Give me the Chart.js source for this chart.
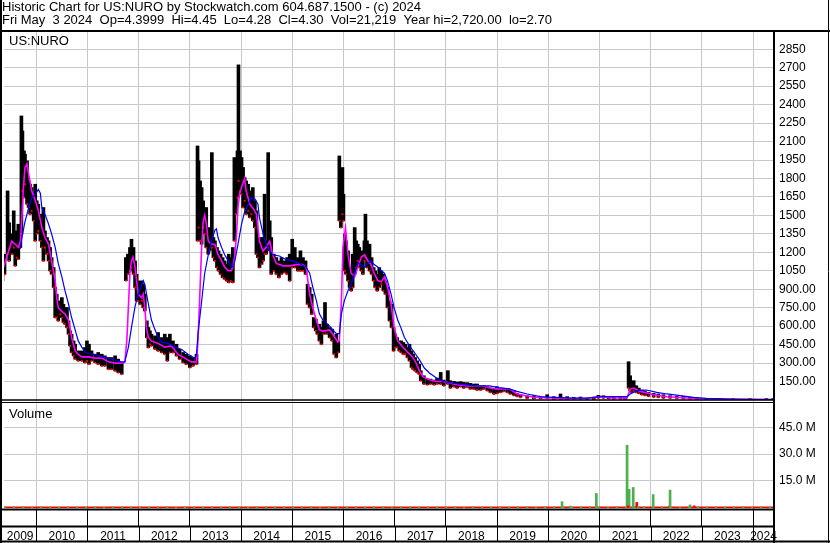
<!DOCTYPE html>
<html>
<head>
<meta charset="utf-8">
<script src="https://cdn.jsdelivr.net/npm/chart.js@4.4.1/dist/chart.umd.min.js"></script>
<style>
  body { margin: 0; background: #fff; }
  #wrap { width: 830px; height: 543px; }
</style>
</head>
<body>
<div id="wrap"><canvas id="histchart" width="830" height="543"></canvas></div>
<script>
// header text
var headerLines = [
	'Historic Chart for US:NURO by Stockwatch.com 604.687.1500 - (c) 2024',
	'Fri May  3 2024  Op=4.3999  Hi=4.45  Lo=4.28  Cl=4.30  Vol=21,219  Year hi=2,720.00  lo=2.70'
];
var yearLabels = ['2009','2010','2011','2012','2013','2014','2015','2016','2017','2018','2019','2020','2021','2022','2023','2024'];
var yearBounds = [2010,2011,2012,2013,2014,2015,2016,2017,2018,2019,2020,2021,2022,2023,2024];
var priceTicks = [150,300,450,600,750,900,1050,1200,1350,1500,1650,1800,1950,2100,2250,2400,2550,2700,2850];
var priceTickLabels = ['150.00','300.00','450.00','600.00','750.00','900.00','1050','1200','1350','1500','1650','1800','1950','2100','2250','2400','2550','2700','2850'];
var volTicks = [15, 30, 45];
var volTickLabels = ['15.0 M', '30.0 M', '45.0 M'];

// daily-ish price ranges (decimal year, high, low)
var barT = [2009.34,2009.38,2009.44,2009.47,2009.53,2009.56,2009.59,2009.62,2009.65,2009.69,2009.71,2009.73,2009.76,2009.78,2009.82,2009.85,2009.88,2009.91,2009.95,2009.98,
	2010.01,2010.04,2010.08,2010.11,2010.14,2010.17,2010.21,2010.24,2010.27,2010.30,2010.34,2010.37,2010.40,2010.43,2010.47,2010.50,2010.53,2010.56,2010.60,2010.63,2010.66,2010.69,2010.73,2010.76,2010.82,2010.89,2010.95,2010.99,
	2011.03,2011.08,2011.15,2011.21,2011.28,2011.34,2011.41,2011.47,2011.54,2011.60,2011.67,2011.75,2011.79,2011.83,2011.86,2011.90,2011.93,2011.96,2011.99,
	2012.03,2012.06,2012.09,2012.12,2012.16,2012.19,2012.22,2012.25,2012.32,2012.38,2012.45,2012.51,2012.56,2012.61,2012.67,2012.74,2012.80,2012.87,2012.93,
	2013.00,2013.06,2013.13,2013.15,2013.17,2013.20,2013.23,2013.26,2013.29,2013.32,2013.36,2013.39,2013.43,2013.46,2013.49,2013.53,2013.56,2013.60,2013.64,2013.68,2013.72,2013.76,2013.80,2013.84,2013.87,2013.90,2013.93,2013.95,2013.98,
	2014.01,2014.04,2014.07,2014.10,2014.14,2014.17,2014.20,2014.23,2014.27,2014.30,2014.33,2014.36,2014.40,2014.43,2014.46,2014.49,2014.53,2014.56,2014.59,2014.64,2014.69,2014.74,2014.79,2014.85,2014.90,2014.95,
	2015.00,2015.05,2015.11,2015.16,2015.21,2015.26,2015.30,2015.34,2015.38,2015.42,2015.46,2015.49,2015.53,2015.57,2015.61,2015.64,2015.68,2015.73,2015.78,2015.82,2015.86,2015.90,2015.92,2015.95,2015.98,
	2016.00,2016.03,2016.05,2016.09,2016.12,2016.15,2016.18,2016.22,2016.25,2016.28,2016.31,2016.35,2016.38,2016.41,2016.43,2016.46,2016.51,2016.55,2016.59,2016.62,2016.66,2016.70,2016.74,2016.78,2016.82,2016.86,2016.90,2016.94,2016.98,
	2017.01,2017.05,2017.09,2017.13,2017.17,2017.21,2017.25,2017.29,2017.33,2017.36,2017.40,2017.44,2017.48,2017.51,2017.57,2017.64,2017.70,2017.77,2017.83,2017.90,2017.96,
	2018.04,2018.09,2018.16,2018.22,2018.29,2018.35,2018.42,2018.48,2018.55,2018.61,2018.68,2018.74,2018.81,2018.87,2018.94,
	2019.00,2019.07,2019.13,2019.20,2019.26,2019.33,2019.39,2019.46,2019.59,2019.72,2019.85,2019.98,
	2020.11,2020.24,2020.37,2020.50,2020.63,2020.76,2020.89,2020.98,2021.08,2021.18,2021.28,2021.41,2021.50,2021.57,2021.60,2021.63,2021.67,2021.72,2021.77,2021.83,2021.89,2021.96,
	2022.06,2022.15,2022.25,2022.38,2022.51,2022.64,2022.77,2022.90,2023.09,2023.35,2023.61,2023.94,2024.26,2024.39];
var barHi = [1157,1185,1699,1440,1350,1537,1374,1320,1428,1350,2308,2186,2024,1997,1943,1780,1753,1726,1672,1753,
	1618,1591,1510,1456,1564,1374,1320,1293,1239,1157,1076,914,860,805,778,832,778,751,751,643,562,535,480,453,399,399,426,480,
	453,399,372,386,372,359,345,345,359,332,304,1157,1185,1239,1306,1239,1130,1022,968,
	914,968,941,860,643,589,562,535,521,548,507,535,507,535,480,453,413,386,372,
	359,345,372,2064,1943,1780,1726,1618,1510,1564,1401,1350,2010,1320,1293,1239,1212,1185,1157,1130,1103,1185,1157,1239,1970,1834,2024,2723,2024,
	1970,1889,1807,1780,1753,1699,1672,1726,1618,1537,1320,1293,1320,1320,1672,1293,2010,1456,1320,1185,1157,1130,1157,1130,1157,1185,
	1306,1239,1157,1212,1157,1130,941,914,860,670,657,616,616,589,643,792,616,589,575,507,535,480,1983,1753,1889,
	1672,1350,1293,1212,1076,1022,1185,1401,1293,1266,1239,1185,1212,1293,1510,1293,1266,1157,1076,1049,1022,1076,1049,1022,968,914,805,778,589,
	535,507,480,480,467,453,426,453,399,372,345,318,291,238,197,170,170,162,178,224,162,
	238,157,151,146,149,143,141,135,130,130,116,116,108,97,89,
	108,97,89,89,81,70,54,43,35,35,27,43,
	27,49,27,22,24,16,22,38,35,27,22,22,19,311,197,130,157,116,97,81,70,62,
	54,49,43,35,30,30,22,16,14,11,8,5,5,5];
var barLo = [970,1022,1185,1130,1185,1239,1090,1157,1144,1239,1350,1699,1645,1753,1591,1564,1510,1537,1456,1293,
	1350,1374,1293,1239,1130,1239,1185,1130,1049,1022,914,670,670,643,697,670,630,616,589,535,440,386,359,332,318,318,304,318,
	291,318,304,291,277,277,250,250,237,223,210,970,1022,1049,1076,1022,914,805,805,
	778,805,751,724,507,426,453,440,413,399,386,372,318,386,386,359,332,304,291,
	264,277,291,1293,1401,1293,1266,1401,1350,1239,1185,1212,1239,1157,1130,1076,1049,1022,995,982,968,955,968,955,1293,1510,1645,1780,1699,
	1672,1564,1618,1510,1537,1483,1510,1456,1401,1185,1157,1076,1103,1130,1185,1185,1239,1212,1022,1049,1022,995,1022,1036,1022,968,
	1076,1076,1049,1049,1049,1022,778,751,697,589,562,535,480,453,535,562,535,507,480,372,345,386,1456,1401,1510,
	1456,1049,1022,968,914,887,914,1022,1076,1130,1076,1049,1022,1130,1157,1076,1049,1022,968,914,887,914,941,887,860,751,643,589,399,
	426,426,399,386,372,372,345,318,264,250,237,223,210,157,130,124,130,124,130,130,116,
	130,97,108,97,108,97,103,89,89,81,81,89,76,62,49,
	54,62,70,62,49,38,30,22,14,11,11,14,
	5,8,5,8,8,5,5,16,16,11,8,8,5,97,76,62,76,62,54,43,38,30,
	24,22,16,16,14,11,8,5,5,3,3,3,3,3];

// short moving average (magenta)
var maShortT = [2009.34,2009.40,2009.46,2009.52,2009.59,2009.65,2009.69,2009.72,2009.75,2009.78,2009.82,2009.85,2009.91,2009.98,
	2010.04,2010.11,2010.17,2010.24,2010.30,2010.37,2010.40,2010.43,2010.50,2010.56,2010.63,2010.69,2010.76,2010.82,2010.89,
	2011.02,2011.15,2011.28,2011.41,2011.54,2011.67,2011.73,2011.77,2011.80,2011.83,2011.86,2011.89,2011.93,2011.96,2011.99,
	2012.06,2012.09,2012.12,2012.15,2012.19,2012.25,2012.38,2012.51,2012.64,2012.77,2012.90,
	2013.03,2013.13,2013.16,2013.19,2013.23,2013.26,2013.29,2013.32,2013.36,2013.42,2013.49,2013.55,2013.62,2013.68,2013.75,2013.81,2013.84,2013.88,2013.91,2013.94,2013.97,
	2014.01,2014.07,2014.10,2014.17,2014.23,2014.30,2014.36,2014.43,2014.49,2014.56,2014.62,2014.69,2014.82,2014.95,
	2015.08,2015.21,2015.27,2015.34,2015.40,2015.47,2015.53,2015.60,2015.73,2015.83,2015.89,2015.92,2015.96,2015.99,
	2016.04,2016.09,2016.15,2016.22,2016.28,2016.35,2016.41,2016.48,2016.54,2016.60,2016.67,2016.74,2016.80,2016.86,2016.93,2016.99,
	2017.06,2017.16,2017.25,2017.35,2017.42,2017.48,2017.55,2017.68,2017.81,2017.94,
	2018.07,2018.20,2018.46,2018.72,2018.85,2018.98,2019.24,2019.39,2019.72,
	2020.04,2020.37,2020.76,2021.02,2021.28,2021.54,2021.60,2021.67,2021.80,
	2022.06,2022.32,2022.71,2023.09,2023.61,2024.40];
var maShort = [1050,1130,1210,1290,1265,1240,1290,1480,1730,1890,1920,1840,1700,1620,
	1540,1400,1320,1265,1130,970,830,750,720,700,650,510,400,370,350,
	350,340,340,310,300,300,310,490,760,1030,1130,1160,1080,970,860,
	830,860,750,590,510,480,460,430,440,370,340,
	310,310,490,800,1240,1450,1500,1440,1290,1265,1265,1180,1130,1080,1050,1050,1080,1180,1340,1560,1670,
	1730,1800,1700,1590,1560,1510,1290,1210,1240,1290,1180,1110,1090,1090,
	1100,1100,1080,860,750,650,570,560,570,510,470,480,800,1240,
	1400,1180,1030,1000,1080,1160,1180,1130,1100,1030,970,960,1000,920,780,590,
	480,430,390,350,300,240,190,165,150,150,
	140,125,115,115,100,90,90,49,22,
	16,11,14,27,16,16,89,97,70,
	43,27,16,8,5,3];

// long moving average (blue)
var maLongT = [2009.69,2009.72,2009.78,2009.85,2009.91,2009.98,
	2010.04,2010.08,2010.11,2010.17,2010.24,2010.30,2010.37,2010.43,2010.50,2010.56,2010.63,2010.69,2010.76,2010.82,2010.89,2010.95,
	2011.02,2011.15,2011.28,2011.41,2011.54,2011.67,2011.73,2011.80,2011.86,2011.93,2011.99,
	2012.06,2012.09,2012.12,2012.19,2012.25,2012.32,2012.38,2012.45,2012.58,2012.71,2012.84,2012.97,
	2013.10,2013.13,2013.16,2013.23,2013.29,2013.36,2013.42,2013.49,2013.52,2013.55,2013.62,2013.68,2013.75,2013.81,2013.84,2013.88,2013.94,
	2014.01,2014.07,2014.14,2014.20,2014.26,2014.33,2014.36,2014.43,2014.49,2014.56,2014.62,2014.75,2014.88,
	2015.01,2015.14,2015.27,2015.34,2015.40,2015.47,2015.53,2015.60,2015.73,2015.86,2015.92,2015.96,
	2016.02,2016.09,2016.15,2016.22,2016.28,2016.35,2016.41,2016.48,2016.54,2016.60,2016.67,2016.74,2016.80,2016.86,2016.93,2016.99,
	2017.06,2017.12,2017.19,2017.29,2017.38,2017.48,2017.58,2017.68,2017.81,2017.94,
	2018.07,2018.33,2018.59,2018.85,2019.04,2019.24,2019.39,2019.59,2019.85,
	2020.11,2020.50,2020.76,2021.02,2021.54,2021.60,2021.73,2021.92,
	2022.12,2022.32,2022.58,2022.84,2023.09,2023.61,2024.40];
var maLong = [1230,1320,1450,1560,1640,1670,
	1710,1680,1560,1510,1430,1350,1240,1110,1000,890,780,670,570,480,430,390,
	380,370,350,340,325,310,310,430,590,760,860,
	940,970,940,780,650,570,510,470,460,430,410,370,
	340,370,540,800,1030,1180,1290,1380,1390,1320,1240,1180,1130,1090,1080,1130,1265,
	1430,1530,1590,1640,1640,1590,1480,1350,1265,1210,1180,1170,1140,
	1130,1110,1080,1030,920,810,700,650,600,540,540,700,
	810,890,940,1030,1110,1100,1080,1110,1130,1100,1080,1050,1030,970,860,750,
	650,590,510,440,390,330,260,220,180,150,
	140,125,115,115,100,90,70,49,27,
	22,16,16,27,27,49,76,81,
	62,49,35,22,14,8,3];

// volume in millions (decimal year, size, 1 = up day)
var volT = [2020.27,2020.29,2020.43,2020.94,2021.54,2021.58,2021.56,2021.66,2021.73,2021.76,2022.05,2022.37,2022.38,2022.77,2022.85];
var volM = [3.3,0.6,0.8,7.9,35.0,10.2,1.0,11.3,2.9,0.5,7.3,0.8,9.8,1.5,1.0];
var volUp = [1,1,1,1,1,1,0,1,0,1,1,0,1,1,0];
var volBase = 0.25;

var xMin = 2009.37, xMax = 2024.41;

function pts(t, v) {
	var out = [];
	for (var i = 0; i < t.length; i++) out.push({x: t[i], y: v[i]});
	return out;
}

var ranges = [], lows = [];
for (var i = 0; i < barT.length; i++) {
	ranges.push({x: barT[i], y: [barLo[i], barHi[i]]});
	lows.push({x: barT[i], y: barLo[i]});
}

var labelFont = {family: 'Liberation Sans', size: 12};

var framePlugin = {
	id: 'frame',
	afterDraw: function(chart) {
		var ctx = chart.ctx;
		var xs = chart.scales.x;
		var ys = chart.scales.y;
		var W = chart.width, H = chart.height;
		ctx.save();
		ctx.strokeStyle = '#000';
		function line(x1, y1, x2, y2, w) {
			ctx.lineWidth = w;
			ctx.beginPath();
			ctx.moveTo(x1, y1);
			ctx.lineTo(x2, y2);
			ctx.stroke();
		}
		// outer frame
		line(1, 0, 1, H, 2);
		line(W - 1.5, 0, W - 1.5, H, 1);
		line(0, 31, W, 31, 2);
		line(0, H - 1.5, W, H - 1.5, 2);
		// right axis line
		line(774, 31, 774, H, 2);
		// panel separator
		line(0, ys.bottom, 774, ys.bottom, 1.5);
		line(0, ys.bottom + 2.5, 774, ys.bottom + 2.5, 1);
		// bottom of volume panel and year rows
		line(0, 509.5, 774, 509.5, 2);
		line(0, 526.5, 774, 526.5, 2);
		for (var i = 0; i < yearBounds.length; i++) {
			var px = Math.round(xs.getPixelForValue(yearBounds[i])) + 0.5;
			line(px, 527, px, H - 1, 1);
		}
		// panel captions
		ctx.fillStyle = '#000';
		ctx.font = '13px "Liberation Sans"';
		ctx.textBaseline = 'middle';
		ctx.textAlign = 'left';
		ctx.fillText('US:NURO', 9, 41);
		ctx.fillText('Volume', 9, 414);
		ctx.restore();
	}
};

var ctx = document.getElementById('histchart');

var histChart = new Chart(ctx, {
	type: 'bar',
	data: {
		datasets: [
			{
				type: 'line',
				label: 'long avg',
				data: pts(maLongT, maLong),
				borderColor: '#0000ff',
				borderWidth: 1.2,
				pointRadius: 0,
				tension: 0,
				yAxisID: 'y',
				order: 1
			},
			{
				type: 'line',
				label: 'short avg',
				data: pts(maShortT, maShort),
				borderColor: '#ff00ff',
				borderWidth: 1.6,
				pointRadius: 0,
				tension: 0,
				yAxisID: 'y',
				order: 2
			},
			{
				type: 'scatter',
				label: 'close',
				data: lows,
				pointStyle: 'rect',
				pointRadius: 1.3,
				backgroundColor: '#ff0000',
				borderWidth: 0,
				yAxisID: 'y',
				order: 3
			},
			{
				type: 'bar',
				label: 'range',
				data: ranges,
				backgroundColor: '#000000',
				barThickness: 3,
				minBarLength: 1,
				grouped: false,
				yAxisID: 'y',
				order: 4
			},
			{
				type: 'bar',
				label: 'volume',
				data: pts(volT, volM),
				backgroundColor: volUp.map(function(u) { return u ? '#4caf50' : '#ff0000'; }),
				barThickness: 2,
				grouped: false,
				yAxisID: 'yv',
				order: 5
			},
			{
				type: 'line',
				label: 'volume base up',
				data: [{x: xMin, y: volBase}, {x: xMax, y: volBase}],
				borderColor: '#4caf50',
				borderWidth: 1.5,
				borderDash: [2, 7],
				pointRadius: 0,
				yAxisID: 'yv',
				order: 6
			},
			{
				type: 'line',
				label: 'volume base',
				data: [{x: xMin, y: volBase}, {x: xMax, y: volBase}],
				borderColor: '#ff0000',
				borderWidth: 1.5,
				pointRadius: 0,
				yAxisID: 'yv',
				order: 7
			}
		]
	},
	options: {
		responsive: false,
		animation: false,
		layout: { padding: { left: 2, right: 0, top: 0, bottom: 0 } },
		plugins: {
			legend: { display: false },
			tooltip: { enabled: false },
			title: {
				display: true,
				text: headerLines,
				align: 'start',
				color: '#000',
				font: { family: 'Liberation Sans', size: 13, weight: 'normal', lineHeight: 1.0 },
				padding: { top: 1, bottom: 5 }
			}
		},
		scales: {
			x: {
				type: 'linear',
				position: 'bottom',
				weight: 0,
				min: xMin,
				max: xMax,
				offset: false,
				afterBuildTicks: function(s) { s.ticks = yearBounds.map(function(v) { return {value: v}; }); },
				afterFit: function(s) { s.height = 18; },
				grid: { color: '#c8c8c8', lineWidth: 1, tickColor: '#000', tickLength: 17, offset: false },
				border: { display: false },
				ticks: { display: false }
			},
			xYear: {
				type: 'linear',
				position: 'bottom',
				weight: 1,
				min: xMin,
				max: xMax,
				offset: false,
				afterBuildTicks: function(s) {
					var t = [];
					for (var i = 0; i < yearLabels.length; i++) {
						var a = Math.max(xMin, +yearLabels[i]);
						var b = Math.min(xMax, +yearLabels[i] + 1);
						t.push({value: (a + b) / 2});
					}
					s.ticks = t;
				},
				afterFit: function(s) { s.height = 16; },
				grid: { display: false, drawTicks: false },
				border: { display: false },
				ticks: {
					color: '#000',
					font: labelFont,
					padding: 2,
					maxRotation: 0,
					autoSkip: false,
					callback: function(v, i) { return yearLabels[i]; }
				}
			},
			y: {
				type: 'linear',
				position: 'right',
				stack: 'panels',
				stackWeight: 368,
				min: 0,
				max: 2990,
				afterBuildTicks: function(s) { s.ticks = priceTicks.map(function(v) { return {value: v}; }); },
				afterFit: function(s) { s.width = 56; },
				grid: { color: '#c8c8c8', drawTicks: false },
				border: { display: false },
				ticks: {
					color: '#000',
					font: labelFont,
					padding: 5,
					autoSkip: false,
					callback: function(v, i) { return priceTickLabels[i]; }
				}
			},
			yv: {
				type: 'linear',
				position: 'right',
				stack: 'panels',
				stackWeight: 109,
				min: -0.8,
				max: 60.4,
				afterBuildTicks: function(s) { s.ticks = volTicks.map(function(v) { return {value: v}; }); },
				afterFit: function(s) { s.width = 56; },
				grid: { color: '#c8c8c8', drawTicks: false },
				border: { display: false },
				ticks: {
					color: '#000',
					font: labelFont,
					padding: 5,
					autoSkip: false,
					callback: function(v, i) { return volTickLabels[i]; }
				}
			}
		}
	},
	plugins: [framePlugin]
});
</script>
</body>
</html>
